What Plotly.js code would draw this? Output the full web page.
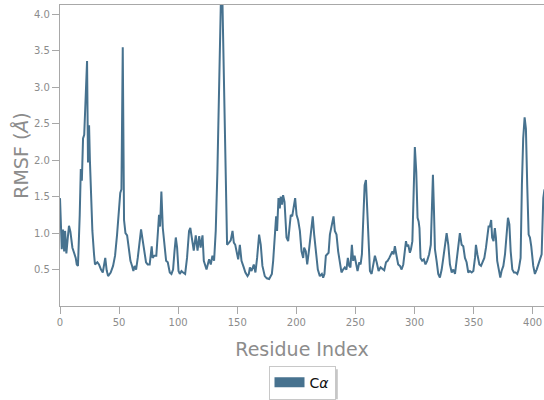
<!DOCTYPE html>
<html>
<head>
<meta charset="utf-8">
<script src="https://cdn.plot.ly/plotly-3.0.1.min.js"></script>
<style>html,body{margin:0;padding:0;background:#fff;}#chart{width:544px;height:400px;}</style>
</head>
<body>
<div id="chart"></div>
<script>
const residueIndex = [0,1.5,2.6,3.5,4.3,5.4,6.5,7.6,8.8,10.5,11.9,13.3,14.2,15.2,16.7,17.6,18.5,19.5,20.5,22,22.9,23.7,24.6,25.3,26.2,27.4,28.8,29.6,31.6,33,34.7,36.2,38.3,39.5,40.7,42.9,44.9,46.6,48.3,50,51,52,53.1,54.2,55.4,56.8,58.2,59.6,61,62.1,63.2,64.4,65.8,67.2,68.6,70,71.4,72.8,74.2,75.9,77.6,78.4,79.8,81.5,83,83.8,84.7,85.8,87,88.4,89.8,91.2,92.9,94.3,95.7,96.9,98,99.1,100.3,101.4,102.8,104.2,105.9,107.5,109.2,110.3,111.7,113.2,114.9,116.4,117.8,119,120.6,121.7,124,126.2,127.6,129,130.4,131.8,133.2,134.6,136.1,137.5,138.9,140.3,141.4,143,144.5,146,147.1,148.3,149.4,150.8,152.2,153.6,155.5,156.9,158.7,159.8,160.7,162.1,164,165.4,166.8,168.5,169.9,171.3,173.3,175,177,179.3,180.4,181.8,182.9,183.7,184.9,186,186.8,187.9,188.8,190,190.8,191.7,193.1,194.5,195.3,196.5,197.9,199,200.2,201.5,203,204.4,205.8,206.6,208,209.2,210.6,212,213.1,213.9,215.1,216.5,218.2,219.9,221.6,222.7,223.8,225,226.1,227.3,228.4,230,231.5,232.6,234,235.4,236.8,238.2,239.6,241,242.4,243.6,244.7,245.8,247,248.1,249.3,250.7,251.8,253.3,254.4,255.5,256.6,257.8,258.9,260,261.2,262.3,263.7,265.1,266.5,268,269.6,271.3,273,274.4,275.9,277.3,278.7,280.1,281.3,282.3,283.4,284.8,286.2,287.7,289.1,290.5,291.6,292.8,293.6,294.7,296.1,297,298.2,299.2,300.3,301.5,302.6,303.5,304.2,305.1,306.5,307.9,309.3,310.7,312.4,313.8,315,315.6,316.5,317.3,318.7,320.1,321.5,323,324.4,325.8,327.2,328.6,330,331.5,332.9,334.3,335.7,337.1,338.4,339.9,341.3,342.7,344.1,345.5,346.9,348.4,349.8,351.2,352,353.2,354.9,356.3,357.7,359.1,360.5,361.7,362.7,363.8,364.9,365.7,366.9,368,368.9,370,371.4,372.6,373.7,375.2,376.6,378,379.1,380.3,381.4,382.8,384.2,385.6,387,388.2,389.8,390.9,392,393.2,394.3,395.4,396.6,397.7,398.8,400.5,401.9,403.4,404.8,406.2,407.6,409,410];
const rmsfCA = [1.48,0.78,1.05,0.75,1.03,0.72,0.92,1.1,1.02,0.8,0.73,0.66,0.57,0.55,1.25,1.88,1.72,2.3,2.35,2.9,3.36,1.97,2.48,2.0,1.55,1.03,0.71,0.57,0.6,0.57,0.5,0.46,0.66,0.49,0.41,0.46,0.55,0.69,0.98,1.39,1.55,1.6,3.55,1.18,1.0,0.97,0.8,0.62,0.55,0.48,0.55,0.5,0.66,0.84,1.05,0.9,0.71,0.6,0.57,0.57,0.82,0.66,0.69,0.69,1.05,1.25,1.09,1.57,1.07,0.8,0.62,0.6,0.46,0.44,0.5,0.75,0.94,0.8,0.48,0.44,0.48,0.46,0.44,0.66,1.03,1.07,0.92,0.76,0.97,0.76,0.96,0.8,0.97,0.62,0.5,0.64,0.57,0.69,0.62,1.03,1.84,3.07,4.15,4.15,3.07,1.71,0.84,0.87,0.9,1.03,0.87,0.84,0.75,0.64,0.84,0.62,0.53,0.46,0.41,0.44,0.53,0.48,0.57,0.46,0.66,0.98,0.84,0.55,0.41,0.38,0.37,0.44,0.62,1.03,1.23,1.03,1.48,1.34,1.5,1.39,1.52,1.43,1.2,0.94,0.89,1.07,1.25,1.23,1.37,1.48,1.25,1.18,1.03,0.75,0.66,0.8,0.75,0.57,0.75,0.94,1.12,1.23,0.98,0.71,0.5,0.41,0.44,0.39,0.44,0.69,0.71,0.73,0.98,1.12,1.23,1.03,0.98,0.75,0.57,0.46,0.5,0.53,0.5,0.66,0.55,0.53,0.84,0.62,0.69,0.57,0.48,0.6,0.57,0.71,1.21,1.66,1.73,1.3,0.71,0.48,0.44,0.57,0.69,0.6,0.48,0.53,0.5,0.49,0.6,0.62,0.66,0.71,0.75,0.71,0.82,0.69,0.57,0.55,0.5,0.57,0.73,0.89,0.82,0.84,0.73,0.78,0.89,1.66,2.18,1.84,1.21,1.16,1.07,0.66,0.62,0.64,0.57,0.62,0.71,0.84,1.39,1.8,1.3,0.78,0.62,0.44,0.39,0.5,0.66,0.84,1.0,0.84,0.57,0.46,0.5,0.44,0.62,0.87,1.0,0.84,0.82,0.66,0.6,0.46,0.48,0.46,0.48,0.66,0.84,0.71,0.57,0.55,0.6,0.66,0.8,0.94,1.09,1.09,1.18,0.94,0.89,1.07,0.94,0.62,0.48,0.39,0.48,0.55,0.71,1.03,1.21,1.12,0.75,0.5,0.46,0.46,0.44,0.5,0.66,1.66,2.3,2.59,2.43,1.66,0.98,0.94,0.82,0.55,0.44,0.5,0.57,0.62,0.71,1.48,1.6];
const xTicks = [0,50,100,150,200,250,300,350,400];
const yTicks = [0.5,1.0,1.5,2.0,2.5,3.0,3.5,4.0];
const yTickLabels = ['0.5','1.0','1.5','2.0','2.5','3.0','3.5','4.0'];
const seriesName = 'C<i>α</i>';

const lineColor = '#47728f';
const grey = '#8c8c8c';

const traces = [
  {x: residueIndex, y: rmsfCA, type: 'scatter', mode: 'lines',
   line: {color: lineColor, width: 2}, showlegend: false, hoverinfo: 'skip'},
  {x: [null], y: [null], type: 'scatter', mode: 'lines', name: seriesName,
   line: {color: lineColor, width: 11}, showlegend: true}
];

const layout = {
  width: 544, height: 400,
  margin: {l: 60, r: 0, t: 5, b: 92},
  paper_bgcolor: '#ffffff', plot_bgcolor: '#ffffff',
  font: {family: 'DejaVu Sans', color: grey, size: 10},
  xaxis: {
    range: [0, 409.6], tickvals: xTicks, ticktext: xTicks.map(String),
    showgrid: false, zeroline: false, showline: true, mirror: true,
    linecolor: '#a8a8a8', linewidth: 1.2, ticks: 'outside', ticklen: 7, tickcolor: '#a8a8a8',
    tickfont: {family: 'DejaVu Sans', size: 10, color: grey},
    title: {text: 'Residue Index', font: {family: 'DejaVu Sans', size: 19, color: grey}, standoff: 15}
  },
  yaxis: {
    range: [0, 4.13], tickvals: yTicks, ticktext: yTickLabels,
    showgrid: false, zeroline: false, showline: true,
    linecolor: '#a8a8a8', linewidth: 1.2, ticks: 'outside', ticklen: 7, tickcolor: '#a8a8a8',
    tickfont: {family: 'DejaVu Sans', size: 10, color: grey},
    title: {text: 'RMSF (<i>Å</i>)', font: {family: 'DejaVu Sans', size: 19, color: grey}, standoff: 0}
  },
  legend: {
    orientation: 'h', x: 0.5, xanchor: 'center', y: -0.198, yanchor: 'top',
    bgcolor: '#ffffff', bordercolor: '#c8c8c8', borderwidth: 1,
    font: {family: 'DejaVu Sans', size: 14, color: '#111111'},
    itemwidth: 30, entrywidth: 20, entrywidthmode: 'pixels'
  },
  shapes: [
    {type: 'rect', xref: 'paper', yref: 'paper', layer: 'above',
     x0: 0.438, x1: 0.574, y0: -0.31, y1: -0.21,
     fillcolor: '#b8b8b8', line: {width: 0}, opacity: 0.8}
  ]
};

Plotly.newPlot('chart', traces, layout, {displayModeBar: false, staticPlot: true});
</script>
</body>
</html>
